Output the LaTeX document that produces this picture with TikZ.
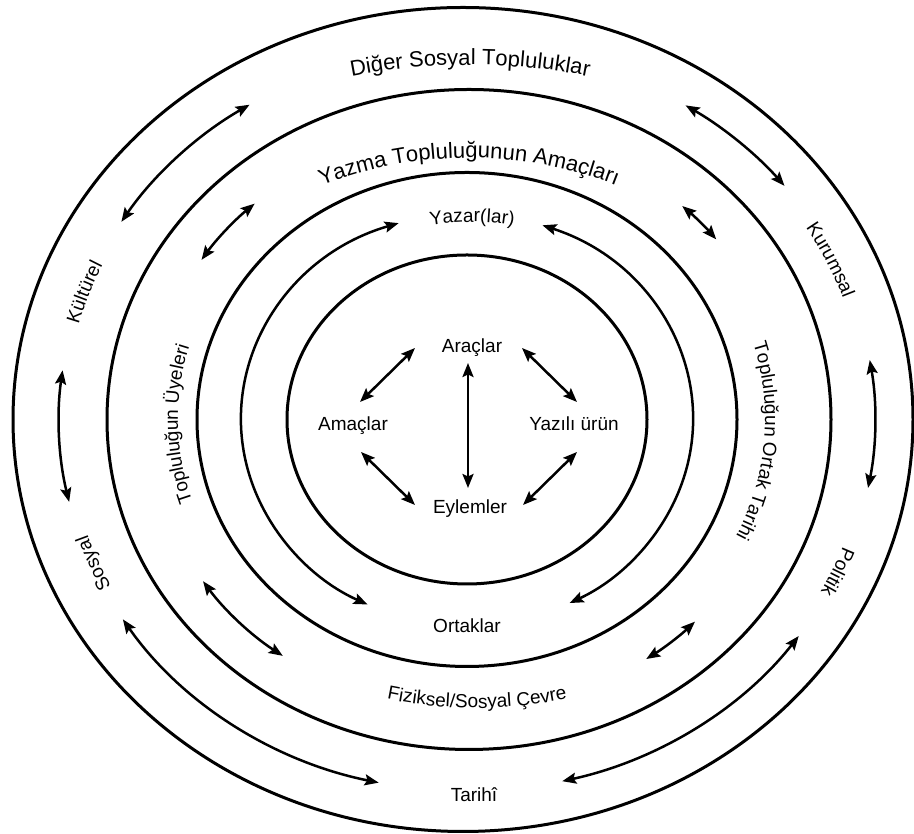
\documentclass[tikz,border=0pt]{standalone}
\usepackage{fontspec}
\setmainfont{Liberation Sans}
\usetikzlibrary{arrows.meta,decorations.text}
\begin{document}
\begin{tikzpicture}[x=1pt,y=1pt,
  ring/.style={line width=3pt},
  tipx/.tip={Stealth[length=14pt,width=11pt,inset=2.5pt]},
  arr/.style={line width=2.5pt,tipx-tipx},
  lbl/.style={font=\fontsize{19}{23}\selectfont, anchor=base, inner sep=0pt},
  curved/.style={decorate, decoration={text along path, text align=center, text={#1}}}
]
\useasboundingbox (0,0) rectangle (914,834);
% rings
\draw[ring] (463,414.5) ellipse[x radius=450, y radius=412];
\draw[ring] (469,414.5) ellipse[x radius=362, y radius=330];
\draw[ring] (467,414.5) ellipse[x radius=270, y radius=247];
\draw[ring] (467,414.5) ellipse[x radius=180, y radius=164.5];

% outer ring arrows
\begin{scope}[shift={(467,414.5)}]
\draw[arr] (122.2:408 and 372) arc[start angle=122.2, end angle=147.9, x radius=408, y radius=372];
\draw[arr] (57.6:408 and 372) arc[start angle=57.6, end angle=38.9, x radius=408, y radius=372];
\draw[arr] (172.4:408 and 372) arc[start angle=172.4, end angle=192.8, x radius=408, y radius=372];
\draw[arr] (9.2:408 and 372) arc[start angle=9.2, end angle=-10.6, x radius=408, y radius=372];
\draw[arr] (212.5:408 and 372) arc[start angle=212.5, end angle=257.5, x radius=408, y radius=372];
\draw[arr] (-35.6:408 and 372) arc[start angle=-35.6, end angle=-76.5, x radius=408, y radius=372];
% second ring arrows
\draw[arr] (131.9:318 and 290) arc[start angle=131.9, end angle=146.6, x radius=318, y radius=290];
\draw[arr] (47.4:318 and 290) arc[start angle=47.4, end angle=38.4, x radius=318, y radius=290];
\draw[arr] (213.9:318 and 290) arc[start angle=213.9, end angle=234.6, x radius=318, y radius=290];
\draw[arr] (-44.2:318 and 290) arc[start angle=-44.2, end angle=-55.7, x radius=318, y radius=290];
% third ring arrows
\draw[arr] (107.6:226 and 206) arc[start angle=107.6, end angle=243.9, x radius=226, y radius=206];
\draw[arr] (70.5:226 and 206) arc[start angle=70.5, end angle=-63, x radius=226, y radius=206];
\end{scope}

% curved labels
\path[shift={(470,414.5)}, curved={|\fontsize{22}{26}\selectfont|Diğer Sosyal Topluluklar}]
  (150:470 and 354.5) arc[start angle=150, end angle=30, x radius=470, y radius=354.5];
\path[shift={(469,414.5)}, curved={|\fontsize{22}{26}\selectfont|Yazma Topluluğunun Amaçları}]
  (160:330 and 261.5) arc[start angle=160, end angle=20, x radius=330, y radius=261.5];
\path[shift={(472,414.5)}, curved={|\fontsize{19}{23}\selectfont|Yazar(lar)}]
  (150:220 and 197.5) arc[start angle=150, end angle=30, x radius=220, y radius=197.5];
\path[shift={(467,414.5)}, curved={|\fontsize{19}{23}\selectfont|Kültürel}]
  (200.7:402 and 366) arc[start angle=200.7, end angle=120.7, x radius=402, y radius=366];
\path[shift={(467,414.5)}, curved={|\fontsize{19}{23}\selectfont|Sosyal}]
  (242:400 and 365) arc[start angle=242, end angle=162, x radius=400, y radius=365];
\path[shift={(467,414.5)}, curved={|\fontsize{19}{23}\selectfont|Kurumsal}]
  (64.8:399 and 363) arc[start angle=64.8, end angle=-15.2, x radius=399, y radius=363];
\path[shift={(467,414.5)}, curved={|\fontsize{19}{23}\selectfont|Politik}]
  (16.6:401 and 365.5) arc[start angle=16.6, end angle=-63.4, x radius=401, y radius=365.5];
\path[shift={(467,414.5)}, curved={|\fontsize{19}{23}\selectfont|Topluluğun Üyeleri}]
  (241:289 and 264) arc[start angle=241, end angle=121, x radius=289, y radius=264];
\path[shift={(467,414.5)}, curved={|\fontsize{19}{23}\selectfont|Topluluğun Ortak Tarihi}]
  (55.6:298 and 272) arc[start angle=55.6, end angle=-64.4, x radius=298, y radius=272];
\path[shift={(477,414.5)}, curved={|\fontsize{19}{23}\selectfont|Fiziksel/Sosyal Çevre}]
  (230:362 and 288.5) arc[start angle=230, end angle=310, x radius=362, y radius=288.5];

% straight labels
\node[lbl] (arac) at (472,481) {Araçlar};
\node[lbl] (amac) at (353,403) {Amaçlar};
\node[lbl] (urun) at (574,403) {Yazılı ürün};
\node[lbl] (eylem) at (470,320) {Eylemler};
\node[lbl] (ortak) at (467,201) {Ortaklar};
\node[lbl] (tarih) at (474,32) {Tarihî};

% inner arrows
\coordinate (aa1) at (415,486);
\coordinate (aa2) at (360,432);
\coordinate (au1) at (522,486);
\coordinate (au2) at (577,432);
\coordinate (ae1) at (468,471);
\coordinate (ae2) at (468,346);
\coordinate (me1) at (361,382);
\coordinate (me2) at (415,329);
\coordinate (ue1) at (577,382);
\coordinate (ue2) at (523,329);
\draw[arr] (aa1) -- (aa2);
\draw[arr] (au1) -- (au2);
\draw[arr] (ae1) -- (ae2);
\draw[arr] (me1) -- (me2);
\draw[arr] (ue1) -- (ue2);
\end{tikzpicture}
\end{document}
